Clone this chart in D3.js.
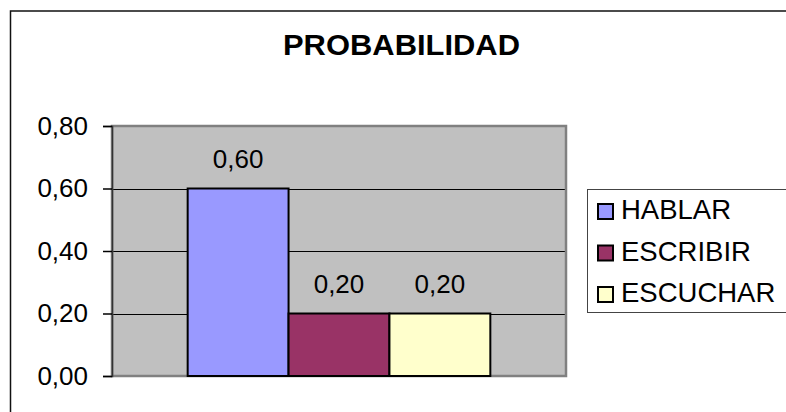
<!DOCTYPE html>
<html>
<head>
<meta charset="utf-8">
<script src="https://cdn.jsdelivr.net/npm/d3@7"></script>
<style>
  html, body { margin: 0; padding: 0; background: #fff; }
  svg { display: block; font-family: Arial, "Liberation Sans", sans-serif; }
</style>
</head>
<body>
<svg id="chart" width="786" height="412"></svg>
<script>
const title = "PROBABILIDAD";
const categories = [""];
const seriesNames = ["HABLAR", "ESCRIBIR", "ESCUCHAR"];
const seriesValues = [0.60, 0.20, 0.20];
const seriesColors = ["#9999FF", "#993366", "#FFFFCC"];
const yTicks = [0, 0.2, 0.4, 0.6, 0.8];

const fmt = v => d3.format(".2f")(v).replace(".", ",");

const svg = d3.select("#chart");
const plot = { left: 112, right: 566, top: 126, bottom: 376 };

// outer chart border
svg.append("rect")
  .attr("x", 10.5).attr("y", 11)
  .attr("width", 800).attr("height", 420)
  .attr("fill", "#fff").attr("stroke", "#111").attr("stroke-width", 1.5);

// title
svg.append("text")
  .attr("x", 401.5).attr("y", 55)
  .attr("text-anchor", "middle")
  .attr("font-size", 29).attr("font-weight", "bold")
  .attr("textLength", 237).attr("lengthAdjust", "spacingAndGlyphs")
  .text(title);

const y = d3.scaleLinear().domain([0, 0.8]).range([plot.bottom, plot.top]);
const x0 = d3.scaleBand().domain(categories).range([plot.left, plot.right]).paddingOuter(0.25).paddingInner(0);
const x1 = d3.scaleBand().domain(seriesNames).range([0, x0.bandwidth()]).padding(0);

// plot area background
svg.append("rect")
  .attr("x", plot.left).attr("y", plot.top)
  .attr("width", plot.right - plot.left).attr("height", plot.bottom - plot.top)
  .attr("fill", "#C0C0C0");

// gridlines
svg.append("g").selectAll("line")
  .data(yTicks.filter(t => t > 0 && t < 0.8))
  .join("line")
  .attr("x1", plot.left).attr("x2", plot.right)
  .attr("y1", d => Math.round(y(d)) + 0.5).attr("y2", d => Math.round(y(d)) + 0.5)
  .attr("stroke", "#000").attr("stroke-width", 1);

// plot border
svg.append("rect")
  .attr("x", plot.left).attr("y", plot.top)
  .attr("width", plot.right - plot.left).attr("height", plot.bottom - plot.top)
  .attr("fill", "none").attr("stroke", "#808080").attr("stroke-width", 2.5);

// y axis
const yAxis = d3.axisLeft(y).tickValues(yTicks).tickSize(9).tickPadding(15).tickFormat(fmt);
const gy = svg.append("g").attr("transform", `translate(${plot.left},0)`).call(yAxis);
gy.select(".domain").attr("stroke", "#333").attr("stroke-width", 1.5);
gy.selectAll(".tick line").attr("stroke", "#000").attr("stroke-width", 1.5);
gy.selectAll(".tick text").attr("font-size", 26).attr("fill", "#000")
  .attr("font-family", "Arial, 'Liberation Sans', sans-serif");

// bars
const data = seriesNames.map((s, i) => ({ cat: categories[0], name: s, value: seriesValues[i], color: seriesColors[i] }));
const bars = svg.append("g");
bars.selectAll("rect")
  .data(data)
  .join("rect")
  .attr("x", d => x0(d.cat) + x1(d.name))
  .attr("y", d => y(d.value))
  .attr("width", x1.bandwidth())
  .attr("height", d => y(0) - y(d.value))
  .attr("fill", d => d.color)
  .attr("stroke", "#000").attr("stroke-width", 2);

bars.selectAll("text")
  .data(data)
  .join("text")
  .attr("x", d => x0(d.cat) + x1(d.name) + x1.bandwidth() / 2)
  .attr("y", d => y(d.value) - 21)
  .attr("text-anchor", "middle")
  .attr("font-size", 26)
  .text(d => fmt(d.value));

// legend
const legend = svg.append("g");
legend.append("rect")
  .attr("x", 587.5).attr("y", 189.5)
  .attr("width", 220).attr("height", 123)
  .attr("fill", "#fff").attr("stroke", "#444").attr("stroke-width", 1);
const rowY = d3.scalePoint().domain(seriesNames).range([219, 302]);
const items = legend.selectAll("g.item").data(data).join("g").attr("class", "item");
items.append("rect")
  .attr("x", 598).attr("y", d => rowY(d.name) - 15)
  .attr("width", 15).attr("height", 15)
  .attr("fill", d => d.color).attr("stroke", "#000").attr("stroke-width", 2);
items.append("text")
  .attr("x", 621).attr("y", d => rowY(d.name))
  .attr("font-size", 27.5)
  .text(d => d.name);
</script>
</body>
</html>
